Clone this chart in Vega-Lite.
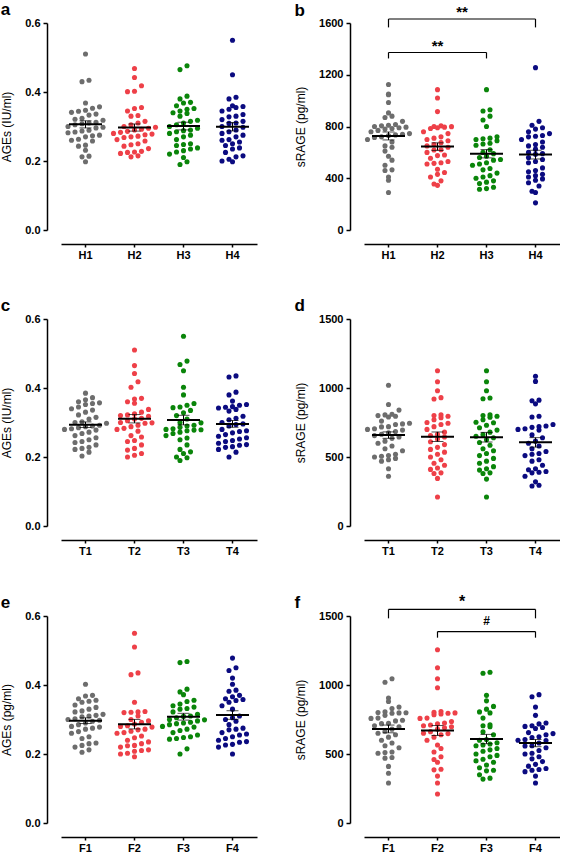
{
"$schema": "https://vega.github.io/schema/vega-lite/v6.json",
"background": "white",
"padding": {"left": 0, "top": 1, "right": 0, "bottom": 0},
"config": {
  "font": "Liberation Sans",
  "view": {"stroke": null},
  "axis": {"grid": false, "domainColor": "black", "domainWidth": 1.5, "tickColor": "black", "tickWidth": 1.5, "labelFont": "Liberation Sans", "labelFontWeight": "bold", "labelFontSize": 11, "labelColor": "black", "titleFont": "Liberation Sans", "titleFontWeight": "normal", "titleFontSize": 12, "titleColor": "black"},
  "axisX": {"offset": 14, "tickSize": 3, "labelPadding": 2, "labelAngle": 0},
  "axisY": {"offset": 14, "tickSize": 4, "labelPadding": 3, "titlePadding": 11},
  "title": {"anchor": "start", "frame": "bounds", "fontSize": 17, "fontWeight": "bold", "font": "Liberation Sans", "color": "black"}
},
"datasets": {
"pts": [
{"p":"a","g":"H1","v":0.51},{"p":"a","g":"H1","v":0.434},{"p":"a","g":"H1","v":0.43},{"p":"a","g":"H1","v":0.368},{"p":"a","g":"H1","v":0.357},{"p":"a","g":"H1","v":0.353},{"p":"a","g":"H1","v":0.347},{"p":"a","g":"H1","v":0.344},{"p":"a","g":"H1","v":0.341},{"p":"a","g":"H1","v":0.336},{"p":"a","g":"H1","v":0.333},{"p":"a","g":"H1","v":0.324},{"p":"a","g":"H1","v":0.321},{"p":"a","g":"H1","v":0.318},{"p":"a","g":"H1","v":0.312},{"p":"a","g":"H1","v":0.31},{"p":"a","g":"H1","v":0.308},{"p":"a","g":"H1","v":0.305},{"p":"a","g":"H1","v":0.3},{"p":"a","g":"H1","v":0.298},{"p":"a","g":"H1","v":0.296},{"p":"a","g":"H1","v":0.289},{"p":"a","g":"H1","v":0.287},{"p":"a","g":"H1","v":0.284},{"p":"a","g":"H1","v":0.282},{"p":"a","g":"H1","v":0.275},{"p":"a","g":"H1","v":0.273},{"p":"a","g":"H1","v":0.27},{"p":"a","g":"H1","v":0.263},{"p":"a","g":"H1","v":0.26},{"p":"a","g":"H1","v":0.258},{"p":"a","g":"H1","v":0.246},{"p":"a","g":"H1","v":0.243},{"p":"a","g":"H1","v":0.231},{"p":"a","g":"H1","v":0.214},{"p":"a","g":"H1","v":0.212},{"p":"a","g":"H1","v":0.198},
{"p":"a","g":"H2","v":0.468},{"p":"a","g":"H2","v":0.442},{"p":"a","g":"H2","v":0.418},{"p":"a","g":"H2","v":0.402},{"p":"a","g":"H2","v":0.401},{"p":"a","g":"H2","v":0.355},{"p":"a","g":"H2","v":0.352},{"p":"a","g":"H2","v":0.345},{"p":"a","g":"H2","v":0.332},{"p":"a","g":"H2","v":0.33},{"p":"a","g":"H2","v":0.315},{"p":"a","g":"H2","v":0.31},{"p":"a","g":"H2","v":0.305},{"p":"a","g":"H2","v":0.3},{"p":"a","g":"H2","v":0.298},{"p":"a","g":"H2","v":0.295},{"p":"a","g":"H2","v":0.292},{"p":"a","g":"H2","v":0.29},{"p":"a","g":"H2","v":0.286},{"p":"a","g":"H2","v":0.283},{"p":"a","g":"H2","v":0.28},{"p":"a","g":"H2","v":0.278},{"p":"a","g":"H2","v":0.276},{"p":"a","g":"H2","v":0.272},{"p":"a","g":"H2","v":0.27},{"p":"a","g":"H2","v":0.268},{"p":"a","g":"H2","v":0.262},{"p":"a","g":"H2","v":0.258},{"p":"a","g":"H2","v":0.25},{"p":"a","g":"H2","v":0.247},{"p":"a","g":"H2","v":0.243},{"p":"a","g":"H2","v":0.236},{"p":"a","g":"H2","v":0.228},{"p":"a","g":"H2","v":0.226},{"p":"a","g":"H2","v":0.225},{"p":"a","g":"H2","v":0.222},{"p":"a","g":"H2","v":0.215},{"p":"a","g":"H2","v":0.212},
{"p":"a","g":"H3","v":0.476},{"p":"a","g":"H3","v":0.465},{"p":"a","g":"H3","v":0.388},{"p":"a","g":"H3","v":0.38},{"p":"a","g":"H3","v":0.37},{"p":"a","g":"H3","v":0.368},{"p":"a","g":"H3","v":0.36},{"p":"a","g":"H3","v":0.352},{"p":"a","g":"H3","v":0.35},{"p":"a","g":"H3","v":0.345},{"p":"a","g":"H3","v":0.34},{"p":"a","g":"H3","v":0.338},{"p":"a","g":"H3","v":0.33},{"p":"a","g":"H3","v":0.318},{"p":"a","g":"H3","v":0.315},{"p":"a","g":"H3","v":0.31},{"p":"a","g":"H3","v":0.305},{"p":"a","g":"H3","v":0.3},{"p":"a","g":"H3","v":0.295},{"p":"a","g":"H3","v":0.29},{"p":"a","g":"H3","v":0.288},{"p":"a","g":"H3","v":0.285},{"p":"a","g":"H3","v":0.28},{"p":"a","g":"H3","v":0.275},{"p":"a","g":"H3","v":0.27},{"p":"a","g":"H3","v":0.262},{"p":"a","g":"H3","v":0.25},{"p":"a","g":"H3","v":0.248},{"p":"a","g":"H3","v":0.245},{"p":"a","g":"H3","v":0.238},{"p":"a","g":"H3","v":0.235},{"p":"a","g":"H3","v":0.23},{"p":"a","g":"H3","v":0.226},{"p":"a","g":"H3","v":0.22},{"p":"a","g":"H3","v":0.21},{"p":"a","g":"H3","v":0.198},{"p":"a","g":"H3","v":0.19},
{"p":"a","g":"H4","v":0.55},{"p":"a","g":"H4","v":0.45},{"p":"a","g":"H4","v":0.385},{"p":"a","g":"H4","v":0.38},{"p":"a","g":"H4","v":0.36},{"p":"a","g":"H4","v":0.358},{"p":"a","g":"H4","v":0.355},{"p":"a","g":"H4","v":0.35},{"p":"a","g":"H4","v":0.345},{"p":"a","g":"H4","v":0.335},{"p":"a","g":"H4","v":0.33},{"p":"a","g":"H4","v":0.328},{"p":"a","g":"H4","v":0.32},{"p":"a","g":"H4","v":0.315},{"p":"a","g":"H4","v":0.31},{"p":"a","g":"H4","v":0.309},{"p":"a","g":"H4","v":0.3},{"p":"a","g":"H4","v":0.298},{"p":"a","g":"H4","v":0.29},{"p":"a","g":"H4","v":0.285},{"p":"a","g":"H4","v":0.28},{"p":"a","g":"H4","v":0.275},{"p":"a","g":"H4","v":0.27},{"p":"a","g":"H4","v":0.262},{"p":"a","g":"H4","v":0.26},{"p":"a","g":"H4","v":0.255},{"p":"a","g":"H4","v":0.25},{"p":"a","g":"H4","v":0.245},{"p":"a","g":"H4","v":0.238},{"p":"a","g":"H4","v":0.235},{"p":"a","g":"H4","v":0.225},{"p":"a","g":"H4","v":0.215},{"p":"a","g":"H4","v":0.212},{"p":"a","g":"H4","v":0.205},{"p":"a","g":"H4","v":0.2},{"p":"a","g":"H4","v":0.198},
{"p":"b","g":"H1","v":1125},{"p":"b","g":"H1","v":1050},{"p":"b","g":"H1","v":1045},{"p":"b","g":"H1","v":985},{"p":"b","g":"H1","v":905},{"p":"b","g":"H1","v":880},{"p":"b","g":"H1","v":870},{"p":"b","g":"H1","v":840},{"p":"b","g":"H1","v":815},{"p":"b","g":"H1","v":810},{"p":"b","g":"H1","v":805},{"p":"b","g":"H1","v":800},{"p":"b","g":"H1","v":795},{"p":"b","g":"H1","v":790},{"p":"b","g":"H1","v":785},{"p":"b","g":"H1","v":780},{"p":"b","g":"H1","v":770},{"p":"b","g":"H1","v":760},{"p":"b","g":"H1","v":745},{"p":"b","g":"H1","v":740},{"p":"b","g":"H1","v":735},{"p":"b","g":"H1","v":730},{"p":"b","g":"H1","v":720},{"p":"b","g":"H1","v":715},{"p":"b","g":"H1","v":700},{"p":"b","g":"H1","v":680},{"p":"b","g":"H1","v":650},{"p":"b","g":"H1","v":640},{"p":"b","g":"H1","v":610},{"p":"b","g":"H1","v":570},{"p":"b","g":"H1","v":540},{"p":"b","g":"H1","v":500},{"p":"b","g":"H1","v":465},{"p":"b","g":"H1","v":460},{"p":"b","g":"H1","v":410},{"p":"b","g":"H1","v":385},{"p":"b","g":"H1","v":290},
{"p":"b","g":"H2","v":1085},{"p":"b","g":"H2","v":1020},{"p":"b","g":"H2","v":915},{"p":"b","g":"H2","v":805},{"p":"b","g":"H2","v":800},{"p":"b","g":"H2","v":799},{"p":"b","g":"H2","v":795},{"p":"b","g":"H2","v":790},{"p":"b","g":"H2","v":785},{"p":"b","g":"H2","v":760},{"p":"b","g":"H2","v":745},{"p":"b","g":"H2","v":720},{"p":"b","g":"H2","v":710},{"p":"b","g":"H2","v":700},{"p":"b","g":"H2","v":690},{"p":"b","g":"H2","v":675},{"p":"b","g":"H2","v":660},{"p":"b","g":"H2","v":650},{"p":"b","g":"H2","v":640},{"p":"b","g":"H2","v":620},{"p":"b","g":"H2","v":618},{"p":"b","g":"H2","v":600},{"p":"b","g":"H2","v":580},{"p":"b","g":"H2","v":575},{"p":"b","g":"H2","v":555},{"p":"b","g":"H2","v":530},{"p":"b","g":"H2","v":520},{"p":"b","g":"H2","v":515},{"p":"b","g":"H2","v":510},{"p":"b","g":"H2","v":470},{"p":"b","g":"H2","v":445},{"p":"b","g":"H2","v":430},{"p":"b","g":"H2","v":410},{"p":"b","g":"H2","v":380},{"p":"b","g":"H2","v":355},{"p":"b","g":"H2","v":345},
{"p":"b","g":"H3","v":1085},{"p":"b","g":"H3","v":930},{"p":"b","g":"H3","v":920},{"p":"b","g":"H3","v":880},{"p":"b","g":"H3","v":850},{"p":"b","g":"H3","v":800},{"p":"b","g":"H3","v":720},{"p":"b","g":"H3","v":710},{"p":"b","g":"H3","v":705},{"p":"b","g":"H3","v":700},{"p":"b","g":"H3","v":690},{"p":"b","g":"H3","v":670},{"p":"b","g":"H3","v":665},{"p":"b","g":"H3","v":655},{"p":"b","g":"H3","v":620},{"p":"b","g":"H3","v":600},{"p":"b","g":"H3","v":590},{"p":"b","g":"H3","v":570},{"p":"b","g":"H3","v":560},{"p":"b","g":"H3","v":545},{"p":"b","g":"H3","v":540},{"p":"b","g":"H3","v":520},{"p":"b","g":"H3","v":510},{"p":"b","g":"H3","v":500},{"p":"b","g":"H3","v":475},{"p":"b","g":"H3","v":465},{"p":"b","g":"H3","v":440},{"p":"b","g":"H3","v":420},{"p":"b","g":"H3","v":410},{"p":"b","g":"H3","v":400},{"p":"b","g":"H3","v":380},{"p":"b","g":"H3","v":370},{"p":"b","g":"H3","v":360},{"p":"b","g":"H3","v":330},{"p":"b","g":"H3","v":320},{"p":"b","g":"H3","v":315},
{"p":"b","g":"H4","v":1255},{"p":"b","g":"H4","v":840},{"p":"b","g":"H4","v":810},{"p":"b","g":"H4","v":790},{"p":"b","g":"H4","v":780},{"p":"b","g":"H4","v":760},{"p":"b","g":"H4","v":745},{"p":"b","g":"H4","v":730},{"p":"b","g":"H4","v":725},{"p":"b","g":"H4","v":720},{"p":"b","g":"H4","v":700},{"p":"b","g":"H4","v":680},{"p":"b","g":"H4","v":660},{"p":"b","g":"H4","v":650},{"p":"b","g":"H4","v":640},{"p":"b","g":"H4","v":625},{"p":"b","g":"H4","v":600},{"p":"b","g":"H4","v":590},{"p":"b","g":"H4","v":585},{"p":"b","g":"H4","v":560},{"p":"b","g":"H4","v":545},{"p":"b","g":"H4","v":530},{"p":"b","g":"H4","v":520},{"p":"b","g":"H4","v":480},{"p":"b","g":"H4","v":460},{"p":"b","g":"H4","v":450},{"p":"b","g":"H4","v":430},{"p":"b","g":"H4","v":420},{"p":"b","g":"H4","v":410},{"p":"b","g":"H4","v":395},{"p":"b","g":"H4","v":385},{"p":"b","g":"H4","v":365},{"p":"b","g":"H4","v":340},{"p":"b","g":"H4","v":300},{"p":"b","g":"H4","v":290},{"p":"b","g":"H4","v":210},
{"p":"c","g":"T1","v":0.385},{"p":"c","g":"T1","v":0.372},{"p":"c","g":"T1","v":0.366},{"p":"c","g":"T1","v":0.36},{"p":"c","g":"T1","v":0.357},{"p":"c","g":"T1","v":0.355},{"p":"c","g":"T1","v":0.352},{"p":"c","g":"T1","v":0.345},{"p":"c","g":"T1","v":0.34},{"p":"c","g":"T1","v":0.336},{"p":"c","g":"T1","v":0.33},{"p":"c","g":"T1","v":0.322},{"p":"c","g":"T1","v":0.315},{"p":"c","g":"T1","v":0.31},{"p":"c","g":"T1","v":0.302},{"p":"c","g":"T1","v":0.3},{"p":"c","g":"T1","v":0.298},{"p":"c","g":"T1","v":0.292},{"p":"c","g":"T1","v":0.29},{"p":"c","g":"T1","v":0.288},{"p":"c","g":"T1","v":0.285},{"p":"c","g":"T1","v":0.282},{"p":"c","g":"T1","v":0.28},{"p":"c","g":"T1","v":0.278},{"p":"c","g":"T1","v":0.272},{"p":"c","g":"T1","v":0.268},{"p":"c","g":"T1","v":0.262},{"p":"c","g":"T1","v":0.256},{"p":"c","g":"T1","v":0.25},{"p":"c","g":"T1","v":0.245},{"p":"c","g":"T1","v":0.242},{"p":"c","g":"T1","v":0.235},{"p":"c","g":"T1","v":0.228},{"p":"c","g":"T1","v":0.225},{"p":"c","g":"T1","v":0.222},{"p":"c","g":"T1","v":0.214},{"p":"c","g":"T1","v":0.203},
{"p":"c","g":"T2","v":0.51},{"p":"c","g":"T2","v":0.465},{"p":"c","g":"T2","v":0.442},{"p":"c","g":"T2","v":0.418},{"p":"c","g":"T2","v":0.402},{"p":"c","g":"T2","v":0.37},{"p":"c","g":"T2","v":0.368},{"p":"c","g":"T2","v":0.36},{"p":"c","g":"T2","v":0.356},{"p":"c","g":"T2","v":0.338},{"p":"c","g":"T2","v":0.33},{"p":"c","g":"T2","v":0.325},{"p":"c","g":"T2","v":0.322},{"p":"c","g":"T2","v":0.32},{"p":"c","g":"T2","v":0.318},{"p":"c","g":"T2","v":0.312},{"p":"c","g":"T2","v":0.31},{"p":"c","g":"T2","v":0.305},{"p":"c","g":"T2","v":0.3},{"p":"c","g":"T2","v":0.299},{"p":"c","g":"T2","v":0.298},{"p":"c","g":"T2","v":0.292},{"p":"c","g":"T2","v":0.288},{"p":"c","g":"T2","v":0.283},{"p":"c","g":"T2","v":0.28},{"p":"c","g":"T2","v":0.275},{"p":"c","g":"T2","v":0.262},{"p":"c","g":"T2","v":0.258},{"p":"c","g":"T2","v":0.248},{"p":"c","g":"T2","v":0.245},{"p":"c","g":"T2","v":0.235},{"p":"c","g":"T2","v":0.225},{"p":"c","g":"T2","v":0.22},{"p":"c","g":"T2","v":0.21},{"p":"c","g":"T2","v":0.205},{"p":"c","g":"T2","v":0.2},
{"p":"c","g":"T3","v":0.55},{"p":"c","g":"T3","v":0.478},{"p":"c","g":"T3","v":0.468},{"p":"c","g":"T3","v":0.45},{"p":"c","g":"T3","v":0.402},{"p":"c","g":"T3","v":0.38},{"p":"c","g":"T3","v":0.355},{"p":"c","g":"T3","v":0.35},{"p":"c","g":"T3","v":0.345},{"p":"c","g":"T3","v":0.343},{"p":"c","g":"T3","v":0.335},{"p":"c","g":"T3","v":0.328},{"p":"c","g":"T3","v":0.32},{"p":"c","g":"T3","v":0.31},{"p":"c","g":"T3","v":0.3},{"p":"c","g":"T3","v":0.299},{"p":"c","g":"T3","v":0.292},{"p":"c","g":"T3","v":0.29},{"p":"c","g":"T3","v":0.286},{"p":"c","g":"T3","v":0.282},{"p":"c","g":"T3","v":0.28},{"p":"c","g":"T3","v":0.279},{"p":"c","g":"T3","v":0.278},{"p":"c","g":"T3","v":0.276},{"p":"c","g":"T3","v":0.272},{"p":"c","g":"T3","v":0.268},{"p":"c","g":"T3","v":0.262},{"p":"c","g":"T3","v":0.255},{"p":"c","g":"T3","v":0.25},{"p":"c","g":"T3","v":0.235},{"p":"c","g":"T3","v":0.222},{"p":"c","g":"T3","v":0.215},{"p":"c","g":"T3","v":0.21},{"p":"c","g":"T3","v":0.2},{"p":"c","g":"T3","v":0.198},{"p":"c","g":"T3","v":0.19},
{"p":"c","g":"T4","v":0.435},{"p":"c","g":"T4","v":0.432},{"p":"c","g":"T4","v":0.388},{"p":"c","g":"T4","v":0.38},{"p":"c","g":"T4","v":0.362},{"p":"c","g":"T4","v":0.352},{"p":"c","g":"T4","v":0.35},{"p":"c","g":"T4","v":0.346},{"p":"c","g":"T4","v":0.344},{"p":"c","g":"T4","v":0.342},{"p":"c","g":"T4","v":0.338},{"p":"c","g":"T4","v":0.333},{"p":"c","g":"T4","v":0.318},{"p":"c","g":"T4","v":0.312},{"p":"c","g":"T4","v":0.308},{"p":"c","g":"T4","v":0.3},{"p":"c","g":"T4","v":0.296},{"p":"c","g":"T4","v":0.294},{"p":"c","g":"T4","v":0.29},{"p":"c","g":"T4","v":0.28},{"p":"c","g":"T4","v":0.276},{"p":"c","g":"T4","v":0.274},{"p":"c","g":"T4","v":0.27},{"p":"c","g":"T4","v":0.265},{"p":"c","g":"T4","v":0.26},{"p":"c","g":"T4","v":0.256},{"p":"c","g":"T4","v":0.252},{"p":"c","g":"T4","v":0.248},{"p":"c","g":"T4","v":0.245},{"p":"c","g":"T4","v":0.24},{"p":"c","g":"T4","v":0.236},{"p":"c","g":"T4","v":0.234},{"p":"c","g":"T4","v":0.23},{"p":"c","g":"T4","v":0.228},{"p":"c","g":"T4","v":0.222},{"p":"c","g":"T4","v":0.214},{"p":"c","g":"T4","v":0.2},
{"p":"d","g":"T1","v":1020},{"p":"d","g":"T1","v":880},{"p":"d","g":"T1","v":840},{"p":"d","g":"T1","v":810},{"p":"d","g":"T1","v":805},{"p":"d","g":"T1","v":800},{"p":"d","g":"T1","v":795},{"p":"d","g":"T1","v":790},{"p":"d","g":"T1","v":760},{"p":"d","g":"T1","v":745},{"p":"d","g":"T1","v":740},{"p":"d","g":"T1","v":735},{"p":"d","g":"T1","v":720},{"p":"d","g":"T1","v":718},{"p":"d","g":"T1","v":705},{"p":"d","g":"T1","v":700},{"p":"d","g":"T1","v":695},{"p":"d","g":"T1","v":685},{"p":"d","g":"T1","v":675},{"p":"d","g":"T1","v":665},{"p":"d","g":"T1","v":655},{"p":"d","g":"T1","v":645},{"p":"d","g":"T1","v":635},{"p":"d","g":"T1","v":615},{"p":"d","g":"T1","v":600},{"p":"d","g":"T1","v":580},{"p":"d","g":"T1","v":560},{"p":"d","g":"T1","v":545},{"p":"d","g":"T1","v":520},{"p":"d","g":"T1","v":510},{"p":"d","g":"T1","v":505},{"p":"d","g":"T1","v":500},{"p":"d","g":"T1","v":490},{"p":"d","g":"T1","v":480},{"p":"d","g":"T1","v":470},{"p":"d","g":"T1","v":415},{"p":"d","g":"T1","v":360},
{"p":"d","g":"T2","v":1125},{"p":"d","g":"T2","v":1045},{"p":"d","g":"T2","v":980},{"p":"d","g":"T2","v":930},{"p":"d","g":"T2","v":920},{"p":"d","g":"T2","v":805},{"p":"d","g":"T2","v":800},{"p":"d","g":"T2","v":795},{"p":"d","g":"T2","v":785},{"p":"d","g":"T2","v":770},{"p":"d","g":"T2","v":750},{"p":"d","g":"T2","v":745},{"p":"d","g":"T2","v":735},{"p":"d","g":"T2","v":720},{"p":"d","g":"T2","v":700},{"p":"d","g":"T2","v":680},{"p":"d","g":"T2","v":665},{"p":"d","g":"T2","v":655},{"p":"d","g":"T2","v":645},{"p":"d","g":"T2","v":630},{"p":"d","g":"T2","v":610},{"p":"d","g":"T2","v":590},{"p":"d","g":"T2","v":570},{"p":"d","g":"T2","v":555},{"p":"d","g":"T2","v":535},{"p":"d","g":"T2","v":520},{"p":"d","g":"T2","v":500},{"p":"d","g":"T2","v":480},{"p":"d","g":"T2","v":455},{"p":"d","g":"T2","v":440},{"p":"d","g":"T2","v":420},{"p":"d","g":"T2","v":410},{"p":"d","g":"T2","v":385},{"p":"d","g":"T2","v":380},{"p":"d","g":"T2","v":345},{"p":"d","g":"T2","v":210},
{"p":"d","g":"T3","v":1125},{"p":"d","g":"T3","v":1045},{"p":"d","g":"T3","v":980},{"p":"d","g":"T3","v":928},{"p":"d","g":"T3","v":922},{"p":"d","g":"T3","v":805},{"p":"d","g":"T3","v":800},{"p":"d","g":"T3","v":795},{"p":"d","g":"T3","v":788},{"p":"d","g":"T3","v":770},{"p":"d","g":"T3","v":752},{"p":"d","g":"T3","v":748},{"p":"d","g":"T3","v":730},{"p":"d","g":"T3","v":712},{"p":"d","g":"T3","v":695},{"p":"d","g":"T3","v":680},{"p":"d","g":"T3","v":662},{"p":"d","g":"T3","v":650},{"p":"d","g":"T3","v":640},{"p":"d","g":"T3","v":625},{"p":"d","g":"T3","v":605},{"p":"d","g":"T3","v":585},{"p":"d","g":"T3","v":560},{"p":"d","g":"T3","v":545},{"p":"d","g":"T3","v":525},{"p":"d","g":"T3","v":510},{"p":"d","g":"T3","v":490},{"p":"d","g":"T3","v":470},{"p":"d","g":"T3","v":455},{"p":"d","g":"T3","v":430},{"p":"d","g":"T3","v":415},{"p":"d","g":"T3","v":405},{"p":"d","g":"T3","v":385},{"p":"d","g":"T3","v":380},{"p":"d","g":"T3","v":340},{"p":"d","g":"T3","v":210},
{"p":"d","g":"T4","v":1085},{"p":"d","g":"T4","v":1048},{"p":"d","g":"T4","v":912},{"p":"d","g":"T4","v":908},{"p":"d","g":"T4","v":885},{"p":"d","g":"T4","v":795},{"p":"d","g":"T4","v":790},{"p":"d","g":"T4","v":735},{"p":"d","g":"T4","v":725},{"p":"d","g":"T4","v":720},{"p":"d","g":"T4","v":715},{"p":"d","g":"T4","v":705},{"p":"d","g":"T4","v":700},{"p":"d","g":"T4","v":695},{"p":"d","g":"T4","v":660},{"p":"d","g":"T4","v":640},{"p":"d","g":"T4","v":615},{"p":"d","g":"T4","v":600},{"p":"d","g":"T4","v":580},{"p":"d","g":"T4","v":560},{"p":"d","g":"T4","v":540},{"p":"d","g":"T4","v":525},{"p":"d","g":"T4","v":520},{"p":"d","g":"T4","v":510},{"p":"d","g":"T4","v":480},{"p":"d","g":"T4","v":470},{"p":"d","g":"T4","v":440},{"p":"d","g":"T4","v":415},{"p":"d","g":"T4","v":408},{"p":"d","g":"T4","v":395},{"p":"d","g":"T4","v":390},{"p":"d","g":"T4","v":385},{"p":"d","g":"T4","v":360},{"p":"d","g":"T4","v":320},{"p":"d","g":"T4","v":295},{"p":"d","g":"T4","v":290},
{"p":"e","g":"F1","v":0.402},{"p":"e","g":"F1","v":0.37},{"p":"e","g":"F1","v":0.368},{"p":"e","g":"F1","v":0.36},{"p":"e","g":"F1","v":0.356},{"p":"e","g":"F1","v":0.353},{"p":"e","g":"F1","v":0.35},{"p":"e","g":"F1","v":0.342},{"p":"e","g":"F1","v":0.335},{"p":"e","g":"F1","v":0.33},{"p":"e","g":"F1","v":0.325},{"p":"e","g":"F1","v":0.322},{"p":"e","g":"F1","v":0.315},{"p":"e","g":"F1","v":0.312},{"p":"e","g":"F1","v":0.31},{"p":"e","g":"F1","v":0.308},{"p":"e","g":"F1","v":0.302},{"p":"e","g":"F1","v":0.3},{"p":"e","g":"F1","v":0.298},{"p":"e","g":"F1","v":0.295},{"p":"e","g":"F1","v":0.29},{"p":"e","g":"F1","v":0.285},{"p":"e","g":"F1","v":0.28},{"p":"e","g":"F1","v":0.278},{"p":"e","g":"F1","v":0.275},{"p":"e","g":"F1","v":0.272},{"p":"e","g":"F1","v":0.265},{"p":"e","g":"F1","v":0.26},{"p":"e","g":"F1","v":0.25},{"p":"e","g":"F1","v":0.245},{"p":"e","g":"F1","v":0.232},{"p":"e","g":"F1","v":0.23},{"p":"e","g":"F1","v":0.225},{"p":"e","g":"F1","v":0.22},{"p":"e","g":"F1","v":0.212},{"p":"e","g":"F1","v":0.205},
{"p":"e","g":"F2","v":0.55},{"p":"e","g":"F2","v":0.51},{"p":"e","g":"F2","v":0.435},{"p":"e","g":"F2","v":0.43},{"p":"e","g":"F2","v":0.35},{"p":"e","g":"F2","v":0.323},{"p":"e","g":"F2","v":0.322},{"p":"e","g":"F2","v":0.321},{"p":"e","g":"F2","v":0.32},{"p":"e","g":"F2","v":0.31},{"p":"e","g":"F2","v":0.3},{"p":"e","g":"F2","v":0.296},{"p":"e","g":"F2","v":0.292},{"p":"e","g":"F2","v":0.287},{"p":"e","g":"F2","v":0.282},{"p":"e","g":"F2","v":0.28},{"p":"e","g":"F2","v":0.278},{"p":"e","g":"F2","v":0.272},{"p":"e","g":"F2","v":0.27},{"p":"e","g":"F2","v":0.266},{"p":"e","g":"F2","v":0.262},{"p":"e","g":"F2","v":0.26},{"p":"e","g":"F2","v":0.252},{"p":"e","g":"F2","v":0.247},{"p":"e","g":"F2","v":0.24},{"p":"e","g":"F2","v":0.235},{"p":"e","g":"F2","v":0.23},{"p":"e","g":"F2","v":0.225},{"p":"e","g":"F2","v":0.224},{"p":"e","g":"F2","v":0.22},{"p":"e","g":"F2","v":0.212},{"p":"e","g":"F2","v":0.21},{"p":"e","g":"F2","v":0.208},{"p":"e","g":"F2","v":0.202},{"p":"e","g":"F2","v":0.2},{"p":"e","g":"F2","v":0.192},
{"p":"e","g":"F3","v":0.468},{"p":"e","g":"F3","v":0.465},{"p":"e","g":"F3","v":0.388},{"p":"e","g":"F3","v":0.38},{"p":"e","g":"F3","v":0.372},{"p":"e","g":"F3","v":0.356},{"p":"e","g":"F3","v":0.352},{"p":"e","g":"F3","v":0.345},{"p":"e","g":"F3","v":0.34},{"p":"e","g":"F3","v":0.336},{"p":"e","g":"F3","v":0.332},{"p":"e","g":"F3","v":0.33},{"p":"e","g":"F3","v":0.322},{"p":"e","g":"F3","v":0.315},{"p":"e","g":"F3","v":0.31},{"p":"e","g":"F3","v":0.309},{"p":"e","g":"F3","v":0.305},{"p":"e","g":"F3","v":0.3},{"p":"e","g":"F3","v":0.299},{"p":"e","g":"F3","v":0.296},{"p":"e","g":"F3","v":0.292},{"p":"e","g":"F3","v":0.29},{"p":"e","g":"F3","v":0.288},{"p":"e","g":"F3","v":0.285},{"p":"e","g":"F3","v":0.28},{"p":"e","g":"F3","v":0.278},{"p":"e","g":"F3","v":0.272},{"p":"e","g":"F3","v":0.268},{"p":"e","g":"F3","v":0.262},{"p":"e","g":"F3","v":0.255},{"p":"e","g":"F3","v":0.25},{"p":"e","g":"F3","v":0.248},{"p":"e","g":"F3","v":0.245},{"p":"e","g":"F3","v":0.243},{"p":"e","g":"F3","v":0.215},{"p":"e","g":"F3","v":0.2},
{"p":"e","g":"F4","v":0.478},{"p":"e","g":"F4","v":0.45},{"p":"e","g":"F4","v":0.442},{"p":"e","g":"F4","v":0.42},{"p":"e","g":"F4","v":0.402},{"p":"e","g":"F4","v":0.385},{"p":"e","g":"F4","v":0.382},{"p":"e","g":"F4","v":0.37},{"p":"e","g":"F4","v":0.366},{"p":"e","g":"F4","v":0.36},{"p":"e","g":"F4","v":0.358},{"p":"e","g":"F4","v":0.355},{"p":"e","g":"F4","v":0.35},{"p":"e","g":"F4","v":0.34},{"p":"e","g":"F4","v":0.33},{"p":"e","g":"F4","v":0.31},{"p":"e","g":"F4","v":0.305},{"p":"e","g":"F4","v":0.3},{"p":"e","g":"F4","v":0.295},{"p":"e","g":"F4","v":0.285},{"p":"e","g":"F4","v":0.275},{"p":"e","g":"F4","v":0.272},{"p":"e","g":"F4","v":0.27},{"p":"e","g":"F4","v":0.262},{"p":"e","g":"F4","v":0.258},{"p":"e","g":"F4","v":0.255},{"p":"e","g":"F4","v":0.25},{"p":"e","g":"F4","v":0.245},{"p":"e","g":"F4","v":0.24},{"p":"e","g":"F4","v":0.236},{"p":"e","g":"F4","v":0.234},{"p":"e","g":"F4","v":0.228},{"p":"e","g":"F4","v":0.226},{"p":"e","g":"F4","v":0.22},{"p":"e","g":"F4","v":0.2},
{"p":"f","g":"F1","v":1045},{"p":"f","g":"F1","v":1020},{"p":"f","g":"F1","v":905},{"p":"f","g":"F1","v":880},{"p":"f","g":"F1","v":840},{"p":"f","g":"F1","v":830},{"p":"f","g":"F1","v":805},{"p":"f","g":"F1","v":800},{"p":"f","g":"F1","v":799},{"p":"f","g":"F1","v":798},{"p":"f","g":"F1","v":795},{"p":"f","g":"F1","v":780},{"p":"f","g":"F1","v":760},{"p":"f","g":"F1","v":758},{"p":"f","g":"F1","v":745},{"p":"f","g":"F1","v":740},{"p":"f","g":"F1","v":722},{"p":"f","g":"F1","v":720},{"p":"f","g":"F1","v":705},{"p":"f","g":"F1","v":698},{"p":"f","g":"F1","v":680},{"p":"f","g":"F1","v":665},{"p":"f","g":"F1","v":650},{"p":"f","g":"F1","v":640},{"p":"f","g":"F1","v":622},{"p":"f","g":"F1","v":600},{"p":"f","g":"F1","v":580},{"p":"f","g":"F1","v":560},{"p":"f","g":"F1","v":545},{"p":"f","g":"F1","v":515},{"p":"f","g":"F1","v":510},{"p":"f","g":"F1","v":505},{"p":"f","g":"F1","v":475},{"p":"f","g":"F1","v":470},{"p":"f","g":"F1","v":410},{"p":"f","g":"F1","v":360},{"p":"f","g":"F1","v":290},
{"p":"f","g":"F2","v":1255},{"p":"f","g":"F2","v":1125},{"p":"f","g":"F2","v":1045},{"p":"f","g":"F2","v":980},{"p":"f","g":"F2","v":808},{"p":"f","g":"F2","v":802},{"p":"f","g":"F2","v":798},{"p":"f","g":"F2","v":795},{"p":"f","g":"F2","v":790},{"p":"f","g":"F2","v":785},{"p":"f","g":"F2","v":760},{"p":"f","g":"F2","v":758},{"p":"f","g":"F2","v":735},{"p":"f","g":"F2","v":725},{"p":"f","g":"F2","v":718},{"p":"f","g":"F2","v":710},{"p":"f","g":"F2","v":705},{"p":"f","g":"F2","v":698},{"p":"f","g":"F2","v":690},{"p":"f","g":"F2","v":680},{"p":"f","g":"F2","v":662},{"p":"f","g":"F2","v":650},{"p":"f","g":"F2","v":648},{"p":"f","g":"F2","v":640},{"p":"f","g":"F2","v":622},{"p":"f","g":"F2","v":600},{"p":"f","g":"F2","v":565},{"p":"f","g":"F2","v":540},{"p":"f","g":"F2","v":515},{"p":"f","g":"F2","v":480},{"p":"f","g":"F2","v":460},{"p":"f","g":"F2","v":440},{"p":"f","g":"F2","v":390},{"p":"f","g":"F2","v":385},{"p":"f","g":"F2","v":340},{"p":"f","g":"F2","v":290},{"p":"f","g":"F2","v":210},
{"p":"f","g":"F3","v":1092},{"p":"f","g":"F3","v":1085},{"p":"f","g":"F3","v":925},{"p":"f","g":"F3","v":885},{"p":"f","g":"F3","v":845},{"p":"f","g":"F3","v":825},{"p":"f","g":"F3","v":805},{"p":"f","g":"F3","v":798},{"p":"f","g":"F3","v":760},{"p":"f","g":"F3","v":712},{"p":"f","g":"F3","v":705},{"p":"f","g":"F3","v":698},{"p":"f","g":"F3","v":660},{"p":"f","g":"F3","v":640},{"p":"f","g":"F3","v":605},{"p":"f","g":"F3","v":600},{"p":"f","g":"F3","v":582},{"p":"f","g":"F3","v":572},{"p":"f","g":"F3","v":565},{"p":"f","g":"F3","v":560},{"p":"f","g":"F3","v":540},{"p":"f","g":"F3","v":530},{"p":"f","g":"F3","v":520},{"p":"f","g":"F3","v":500},{"p":"f","g":"F3","v":490},{"p":"f","g":"F3","v":480},{"p":"f","g":"F3","v":462},{"p":"f","g":"F3","v":450},{"p":"f","g":"F3","v":440},{"p":"f","g":"F3","v":420},{"p":"f","g":"F3","v":400},{"p":"f","g":"F3","v":382},{"p":"f","g":"F3","v":378},{"p":"f","g":"F3","v":350},{"p":"f","g":"F3","v":325},{"p":"f","g":"F3","v":318},
{"p":"f","g":"F4","v":930},{"p":"f","g":"F4","v":915},{"p":"f","g":"F4","v":840},{"p":"f","g":"F4","v":780},{"p":"f","g":"F4","v":725},{"p":"f","g":"F4","v":718},{"p":"f","g":"F4","v":705},{"p":"f","g":"F4","v":700},{"p":"f","g":"F4","v":692},{"p":"f","g":"F4","v":685},{"p":"f","g":"F4","v":655},{"p":"f","g":"F4","v":648},{"p":"f","g":"F4","v":640},{"p":"f","g":"F4","v":625},{"p":"f","g":"F4","v":620},{"p":"f","g":"F4","v":605},{"p":"f","g":"F4","v":600},{"p":"f","g":"F4","v":598},{"p":"f","g":"F4","v":580},{"p":"f","g":"F4","v":560},{"p":"f","g":"F4","v":558},{"p":"f","g":"F4","v":545},{"p":"f","g":"F4","v":525},{"p":"f","g":"F4","v":505},{"p":"f","g":"F4","v":500},{"p":"f","g":"F4","v":480},{"p":"f","g":"F4","v":465},{"p":"f","g":"F4","v":445},{"p":"f","g":"F4","v":425},{"p":"f","g":"F4","v":412},{"p":"f","g":"F4","v":395},{"p":"f","g":"F4","v":388},{"p":"f","g":"F4","v":382},{"p":"f","g":"F4","v":372},{"p":"f","g":"F4","v":340},{"p":"f","g":"F4","v":290}
],
"br": [
{"p":"b","id":1,"x1":"H1","x2":"H4","y":1631,"y0":1566,"lab":"**","lx":"H3","ly":1685,"lvl":"top"},
{"p":"b","id":2,"x1":"H1","x2":"H3","y":1372,"y0":1326,"lab":"**","lx":"H2","ly":1426,"lvl":"in"},
{"p":"f","id":1,"x1":"F1","x2":"F4","y":1548,"y0":1483,"lab":"*","lx":"F3","ly":1598,"lvl":"top"},
{"p":"f","id":2,"x1":"F2","x2":"F4","y":1387,"y0":1343,"lab":"#","lx":"F3","ly":1463,"lvl":"in"}
]
},
"data": {"name": "pts"},
"spacing": 37,
"vconcat": [
{"spacing": 37, "hconcat": [
 {"title": {"text": "a", "offset": -2}, "width": 196, "height": 207,
  "transform": [{"filter": "datum.p === 'a'"}],
  "layer": [
   {"transform": [{"bin": {"step": 0.02}, "field": "v", "as": "vb"}, {"window": [{"op": "row_number", "as": "rn"}, {"op": "count", "as": "cnt"}], "groupby": ["g", "vb"], "sort": [{"field": "v", "order": "ascending"}], "frame": [null, null]}, {"calculate": "datum.rn - (datum.cnt + 1) / 2", "as": "off"}],
    "mark": {"type": "circle", "size": 26, "opacity": 1},
    "encoding": {
     "x": {"field": "g", "type": "nominal", "title": null, "scale": {"domain": ["H1","H2","H3","H4"], "paddingInner": 0, "paddingOuter": 0}},
     "xOffset": {"field": "off", "type": "quantitative", "scale": {"domain": [-4, 4], "range": [-3.5, 52.5]}},
     "y": {"field": "v", "type": "quantitative", "title": "AGEs (IU/ml)", "scale": {"domain": [0, 0.6], "nice": false}, "axis": {"values": [0, 0.2, 0.4, 0.6], "format": ".1f"}},
     "color": {"field": "g", "type": "nominal", "legend": null, "scale": {"domain": ["H1","H2","H3","H4","T1","T2","T3","T4","F1","F2","F3","F4"], "range": ["#6d6d6d","#ee4048","#0a850a","#0b0b80","#6d6d6d","#ee4048","#0a850a","#0b0b80","#6d6d6d","#ee4048","#0a850a","#0b0b80"]}}
    }},
   {"mark": {"type": "errorbar", "extent": "stderr", "color": "black", "thickness": 1, "ticks": {"size": 12}},
    "encoding": {"x": {"field": "g", "type": "nominal", "title": null, "scale": {"domain": ["H1","H2","H3","H4"], "paddingInner": 0, "paddingOuter": 0}}, "y": {"field": "v", "type": "quantitative", "title": "AGEs (IU/ml)", "scale": {"domain": [0, 0.6], "nice": false}}}},
   {"mark": {"type": "tick", "color": "black", "thickness": 2, "size": 33},
    "encoding": {"x": {"field": "g", "type": "nominal", "title": null, "scale": {"domain": ["H1","H2","H3","H4"], "paddingInner": 0, "paddingOuter": 0}}, "y": {"aggregate": "mean", "field": "v", "type": "quantitative", "title": "AGEs (IU/ml)", "scale": {"domain": [0, 0.6], "nice": false}}}}
  ]},
 {"title": {"text": "b", "offset": -14.5}, "width": 196, "height": 207,
  "transform": [{"filter": "datum.p === 'b'"}],
  "layer": [
   {"transform": [{"bin": {"step": 50}, "field": "v", "as": "vb"}, {"window": [{"op": "row_number", "as": "rn"}, {"op": "count", "as": "cnt"}], "groupby": ["g", "vb"], "sort": [{"field": "v", "order": "ascending"}], "frame": [null, null]}, {"calculate": "datum.rn - (datum.cnt + 1) / 2", "as": "off"}],
    "mark": {"type": "circle", "size": 26, "opacity": 1},
    "encoding": {
     "x": {"field": "g", "type": "nominal", "title": null, "scale": {"domain": ["H1","H2","H3","H4"], "paddingInner": 0, "paddingOuter": 0}},
     "xOffset": {"field": "off", "type": "quantitative", "scale": {"domain": [-4, 4], "range": [-3.5, 52.5]}},
     "y": {"field": "v", "type": "quantitative", "title": "sRAGE (pg/ml)", "scale": {"domain": [0, 1600], "nice": false}, "axis": {"values": [0, 400, 800, 1200, 1600], "format": "d"}},
     "color": {"field": "g", "type": "nominal", "legend": null, "scale": {"domain": ["H1","H2","H3","H4","T1","T2","T3","T4","F1","F2","F3","F4"], "range": ["#6d6d6d","#ee4048","#0a850a","#0b0b80","#6d6d6d","#ee4048","#0a850a","#0b0b80","#6d6d6d","#ee4048","#0a850a","#0b0b80"]}}
    }},
   {"mark": {"type": "errorbar", "extent": "stderr", "color": "black", "thickness": 1, "ticks": {"size": 12}},
    "encoding": {"x": {"field": "g", "type": "nominal", "title": null, "scale": {"domain": ["H1","H2","H3","H4"], "paddingInner": 0, "paddingOuter": 0}}, "y": {"field": "v", "type": "quantitative", "title": "sRAGE (pg/ml)", "scale": {"domain": [0, 1600], "nice": false}}}},
   {"mark": {"type": "tick", "color": "black", "thickness": 2, "size": 33},
    "encoding": {"x": {"field": "g", "type": "nominal", "title": null, "scale": {"domain": ["H1","H2","H3","H4"], "paddingInner": 0, "paddingOuter": 0}}, "y": {"aggregate": "mean", "field": "v", "type": "quantitative", "title": "sRAGE (pg/ml)", "scale": {"domain": [0, 1600], "nice": false}}}},
   {"data": {"name": "br"},
    "transform": [{"filter": "datum.p === 'b'"}, {"fold": ["x1", "x2"], "as": ["end", "xe"]}],
    "layer": [
     {"mark": {"type": "line", "color": "black", "strokeWidth": 1.2},
      "encoding": {"x": {"field": "xe", "type": "nominal", "title": null, "scale": {"domain": ["H1","H2","H3","H4"], "paddingInner": 0, "paddingOuter": 0}}, "y": {"field": "y", "type": "quantitative", "title": "sRAGE (pg/ml)", "scale": {"domain": [0, 1600], "nice": false}}, "detail": {"field": "id", "type": "nominal"}}},
     {"mark": {"type": "rule", "color": "black", "strokeWidth": 1.2},
      "encoding": {"x": {"field": "xe", "type": "nominal", "title": null, "scale": {"domain": ["H1","H2","H3","H4"], "paddingInner": 0, "paddingOuter": 0}}, "y": {"field": "y", "type": "quantitative", "title": "sRAGE (pg/ml)", "scale": {"domain": [0, 1600], "nice": false}}, "y2": {"field": "y0"}}},
     {"transform": [{"filter": "datum.end === 'x1' && datum.lvl === 'top'"}],
      "mark": {"type": "text", "fontSize": 15, "fontWeight": "bold", "baseline": "middle", "align": "center", "color": "black"},
      "encoding": {"x": {"field": "lx", "type": "nominal", "bandPosition": 0, "title": null, "scale": {"domain": ["H1","H2","H3","H4"], "paddingInner": 0, "paddingOuter": 0}}, "y": {"field": "ly", "type": "quantitative", "title": "sRAGE (pg/ml)", "scale": {"domain": [0, 1600], "nice": false}}, "text": {"field": "lab"}}},
     {"transform": [{"filter": "datum.end === 'x1' && datum.lvl === 'in'"}],
      "mark": {"type": "text", "fontSize": 15, "fontWeight": "bold", "baseline": "middle", "align": "center", "color": "black"},
      "encoding": {"x": {"field": "lx", "type": "nominal", "bandPosition": 0.5, "title": null, "scale": {"domain": ["H1","H2","H3","H4"], "paddingInner": 0, "paddingOuter": 0}}, "y": {"field": "ly", "type": "quantitative", "title": "sRAGE (pg/ml)", "scale": {"domain": [0, 1600], "nice": false}}, "text": {"field": "lab"}}}
    ]}
  ]}
]},
{"spacing": 37, "hconcat": [
 {"title": {"text": "c", "offset": -2}, "width": 196, "height": 207,
  "transform": [{"filter": "datum.p === 'c'"}],
  "layer": [
   {"transform": [{"bin": {"step": 0.02}, "field": "v", "as": "vb"}, {"window": [{"op": "row_number", "as": "rn"}, {"op": "count", "as": "cnt"}], "groupby": ["g", "vb"], "sort": [{"field": "v", "order": "ascending"}], "frame": [null, null]}, {"calculate": "datum.rn - (datum.cnt + 1) / 2", "as": "off"}],
    "mark": {"type": "circle", "size": 26, "opacity": 1},
    "encoding": {
     "x": {"field": "g", "type": "nominal", "title": null, "scale": {"domain": ["T1","T2","T3","T4"], "paddingInner": 0, "paddingOuter": 0}},
     "xOffset": {"field": "off", "type": "quantitative", "scale": {"domain": [-4, 4], "range": [-3.5, 52.5]}},
     "y": {"field": "v", "type": "quantitative", "title": "AGEs (IU/ml)", "scale": {"domain": [0, 0.6], "nice": false}, "axis": {"values": [0, 0.2, 0.4, 0.6], "format": ".1f"}},
     "color": {"field": "g", "type": "nominal", "legend": null, "scale": {"domain": ["H1","H2","H3","H4","T1","T2","T3","T4","F1","F2","F3","F4"], "range": ["#6d6d6d","#ee4048","#0a850a","#0b0b80","#6d6d6d","#ee4048","#0a850a","#0b0b80","#6d6d6d","#ee4048","#0a850a","#0b0b80"]}}
    }},
   {"mark": {"type": "errorbar", "extent": "stderr", "color": "black", "thickness": 1, "ticks": {"size": 12}},
    "encoding": {"x": {"field": "g", "type": "nominal", "title": null, "scale": {"domain": ["T1","T2","T3","T4"], "paddingInner": 0, "paddingOuter": 0}}, "y": {"field": "v", "type": "quantitative", "title": "AGEs (IU/ml)", "scale": {"domain": [0, 0.6], "nice": false}}}},
   {"mark": {"type": "tick", "color": "black", "thickness": 2, "size": 33},
    "encoding": {"x": {"field": "g", "type": "nominal", "title": null, "scale": {"domain": ["T1","T2","T3","T4"], "paddingInner": 0, "paddingOuter": 0}}, "y": {"aggregate": "mean", "field": "v", "type": "quantitative", "title": "AGEs (IU/ml)", "scale": {"domain": [0, 0.6], "nice": false}}}}
  ]},
 {"title": {"text": "d", "offset": -2}, "width": 196, "height": 207,
  "transform": [{"filter": "datum.p === 'd'"}],
  "layer": [
   {"transform": [{"bin": {"step": 50}, "field": "v", "as": "vb"}, {"window": [{"op": "row_number", "as": "rn"}, {"op": "count", "as": "cnt"}], "groupby": ["g", "vb"], "sort": [{"field": "v", "order": "ascending"}], "frame": [null, null]}, {"calculate": "datum.rn - (datum.cnt + 1) / 2", "as": "off"}],
    "mark": {"type": "circle", "size": 26, "opacity": 1},
    "encoding": {
     "x": {"field": "g", "type": "nominal", "title": null, "scale": {"domain": ["T1","T2","T3","T4"], "paddingInner": 0, "paddingOuter": 0}},
     "xOffset": {"field": "off", "type": "quantitative", "scale": {"domain": [-4, 4], "range": [-3.5, 52.5]}},
     "y": {"field": "v", "type": "quantitative", "title": "sRAGE (pg/ml)", "scale": {"domain": [0, 1500], "nice": false}, "axis": {"values": [0, 500, 1000, 1500], "format": "d"}},
     "color": {"field": "g", "type": "nominal", "legend": null, "scale": {"domain": ["H1","H2","H3","H4","T1","T2","T3","T4","F1","F2","F3","F4"], "range": ["#6d6d6d","#ee4048","#0a850a","#0b0b80","#6d6d6d","#ee4048","#0a850a","#0b0b80","#6d6d6d","#ee4048","#0a850a","#0b0b80"]}}
    }},
   {"mark": {"type": "errorbar", "extent": "stderr", "color": "black", "thickness": 1, "ticks": {"size": 12}},
    "encoding": {"x": {"field": "g", "type": "nominal", "title": null, "scale": {"domain": ["T1","T2","T3","T4"], "paddingInner": 0, "paddingOuter": 0}}, "y": {"field": "v", "type": "quantitative", "title": "sRAGE (pg/ml)", "scale": {"domain": [0, 1500], "nice": false}}}},
   {"mark": {"type": "tick", "color": "black", "thickness": 2, "size": 33},
    "encoding": {"x": {"field": "g", "type": "nominal", "title": null, "scale": {"domain": ["T1","T2","T3","T4"], "paddingInner": 0, "paddingOuter": 0}}, "y": {"aggregate": "mean", "field": "v", "type": "quantitative", "title": "sRAGE (pg/ml)", "scale": {"domain": [0, 1500], "nice": false}}}}
  ]}
]},
{"spacing": 37, "hconcat": [
 {"title": {"text": "e", "offset": -2}, "width": 196, "height": 207,
  "transform": [{"filter": "datum.p === 'e'"}],
  "layer": [
   {"transform": [{"bin": {"step": 0.02}, "field": "v", "as": "vb"}, {"window": [{"op": "row_number", "as": "rn"}, {"op": "count", "as": "cnt"}], "groupby": ["g", "vb"], "sort": [{"field": "v", "order": "ascending"}], "frame": [null, null]}, {"calculate": "datum.rn - (datum.cnt + 1) / 2", "as": "off"}],
    "mark": {"type": "circle", "size": 26, "opacity": 1},
    "encoding": {
     "x": {"field": "g", "type": "nominal", "title": null, "scale": {"domain": ["F1","F2","F3","F4"], "paddingInner": 0, "paddingOuter": 0}},
     "xOffset": {"field": "off", "type": "quantitative", "scale": {"domain": [-4, 4], "range": [-3.5, 52.5]}},
     "y": {"field": "v", "type": "quantitative", "title": "AGEs (pg/ml)", "scale": {"domain": [0, 0.6], "nice": false}, "axis": {"values": [0, 0.2, 0.4, 0.6], "format": ".1f"}},
     "color": {"field": "g", "type": "nominal", "legend": null, "scale": {"domain": ["H1","H2","H3","H4","T1","T2","T3","T4","F1","F2","F3","F4"], "range": ["#6d6d6d","#ee4048","#0a850a","#0b0b80","#6d6d6d","#ee4048","#0a850a","#0b0b80","#6d6d6d","#ee4048","#0a850a","#0b0b80"]}}
    }},
   {"mark": {"type": "errorbar", "extent": "stderr", "color": "black", "thickness": 1, "ticks": {"size": 12}},
    "encoding": {"x": {"field": "g", "type": "nominal", "title": null, "scale": {"domain": ["F1","F2","F3","F4"], "paddingInner": 0, "paddingOuter": 0}}, "y": {"field": "v", "type": "quantitative", "title": "AGEs (pg/ml)", "scale": {"domain": [0, 0.6], "nice": false}}}},
   {"mark": {"type": "tick", "color": "black", "thickness": 2, "size": 33},
    "encoding": {"x": {"field": "g", "type": "nominal", "title": null, "scale": {"domain": ["F1","F2","F3","F4"], "paddingInner": 0, "paddingOuter": 0}}, "y": {"aggregate": "mean", "field": "v", "type": "quantitative", "title": "AGEs (pg/ml)", "scale": {"domain": [0, 0.6], "nice": false}}}}
  ]},
 {"title": {"text": "f", "offset": -17.5}, "width": 196, "height": 207,
  "transform": [{"filter": "datum.p === 'f'"}],
  "layer": [
   {"transform": [{"bin": {"step": 50}, "field": "v", "as": "vb"}, {"window": [{"op": "row_number", "as": "rn"}, {"op": "count", "as": "cnt"}], "groupby": ["g", "vb"], "sort": [{"field": "v", "order": "ascending"}], "frame": [null, null]}, {"calculate": "datum.rn - (datum.cnt + 1) / 2", "as": "off"}],
    "mark": {"type": "circle", "size": 26, "opacity": 1},
    "encoding": {
     "x": {"field": "g", "type": "nominal", "title": null, "scale": {"domain": ["F1","F2","F3","F4"], "paddingInner": 0, "paddingOuter": 0}},
     "xOffset": {"field": "off", "type": "quantitative", "scale": {"domain": [-4, 4], "range": [-3.5, 52.5]}},
     "y": {"field": "v", "type": "quantitative", "title": "sRAGE (pg/ml)", "scale": {"domain": [0, 1500], "nice": false}, "axis": {"values": [0, 500, 1000, 1500], "format": "d"}},
     "color": {"field": "g", "type": "nominal", "legend": null, "scale": {"domain": ["H1","H2","H3","H4","T1","T2","T3","T4","F1","F2","F3","F4"], "range": ["#6d6d6d","#ee4048","#0a850a","#0b0b80","#6d6d6d","#ee4048","#0a850a","#0b0b80","#6d6d6d","#ee4048","#0a850a","#0b0b80"]}}
    }},
   {"mark": {"type": "errorbar", "extent": "stderr", "color": "black", "thickness": 1, "ticks": {"size": 12}},
    "encoding": {"x": {"field": "g", "type": "nominal", "title": null, "scale": {"domain": ["F1","F2","F3","F4"], "paddingInner": 0, "paddingOuter": 0}}, "y": {"field": "v", "type": "quantitative", "title": "sRAGE (pg/ml)", "scale": {"domain": [0, 1500], "nice": false}}}},
   {"mark": {"type": "tick", "color": "black", "thickness": 2, "size": 33},
    "encoding": {"x": {"field": "g", "type": "nominal", "title": null, "scale": {"domain": ["F1","F2","F3","F4"], "paddingInner": 0, "paddingOuter": 0}}, "y": {"aggregate": "mean", "field": "v", "type": "quantitative", "title": "sRAGE (pg/ml)", "scale": {"domain": [0, 1500], "nice": false}}}},
   {"data": {"name": "br"},
    "transform": [{"filter": "datum.p === 'f'"}, {"fold": ["x1", "x2"], "as": ["end", "xe"]}],
    "layer": [
     {"mark": {"type": "line", "color": "black", "strokeWidth": 1.2},
      "encoding": {"x": {"field": "xe", "type": "nominal", "title": null, "scale": {"domain": ["F1","F2","F3","F4"], "paddingInner": 0, "paddingOuter": 0}}, "y": {"field": "y", "type": "quantitative", "title": "sRAGE (pg/ml)", "scale": {"domain": [0, 1500], "nice": false}}, "detail": {"field": "id", "type": "nominal"}}},
     {"mark": {"type": "rule", "color": "black", "strokeWidth": 1.2},
      "encoding": {"x": {"field": "xe", "type": "nominal", "title": null, "scale": {"domain": ["F1","F2","F3","F4"], "paddingInner": 0, "paddingOuter": 0}}, "y": {"field": "y", "type": "quantitative", "title": "sRAGE (pg/ml)", "scale": {"domain": [0, 1500], "nice": false}}, "y2": {"field": "y0"}}},
     {"transform": [{"filter": "datum.end === 'x1' && datum.lvl === 'top'"}],
      "mark": {"type": "text", "fontSize": 16, "fontWeight": "bold", "baseline": "middle", "align": "center", "color": "black"},
      "encoding": {"x": {"field": "lx", "type": "nominal", "bandPosition": 0, "title": null, "scale": {"domain": ["F1","F2","F3","F4"], "paddingInner": 0, "paddingOuter": 0}}, "y": {"field": "ly", "type": "quantitative", "title": "sRAGE (pg/ml)", "scale": {"domain": [0, 1500], "nice": false}}, "text": {"field": "lab"}}},
     {"transform": [{"filter": "datum.end === 'x1' && datum.lvl === 'in'"}],
      "mark": {"type": "text", "fontSize": 12, "fontWeight": "bold", "baseline": "middle", "align": "center", "color": "black"},
      "encoding": {"x": {"field": "lx", "type": "nominal", "bandPosition": 0.5, "title": null, "scale": {"domain": ["F1","F2","F3","F4"], "paddingInner": 0, "paddingOuter": 0}}, "y": {"field": "ly", "type": "quantitative", "title": "sRAGE (pg/ml)", "scale": {"domain": [0, 1500], "nice": false}}, "text": {"field": "lab"}}}
    ]}
  ]}
]}
]
}
